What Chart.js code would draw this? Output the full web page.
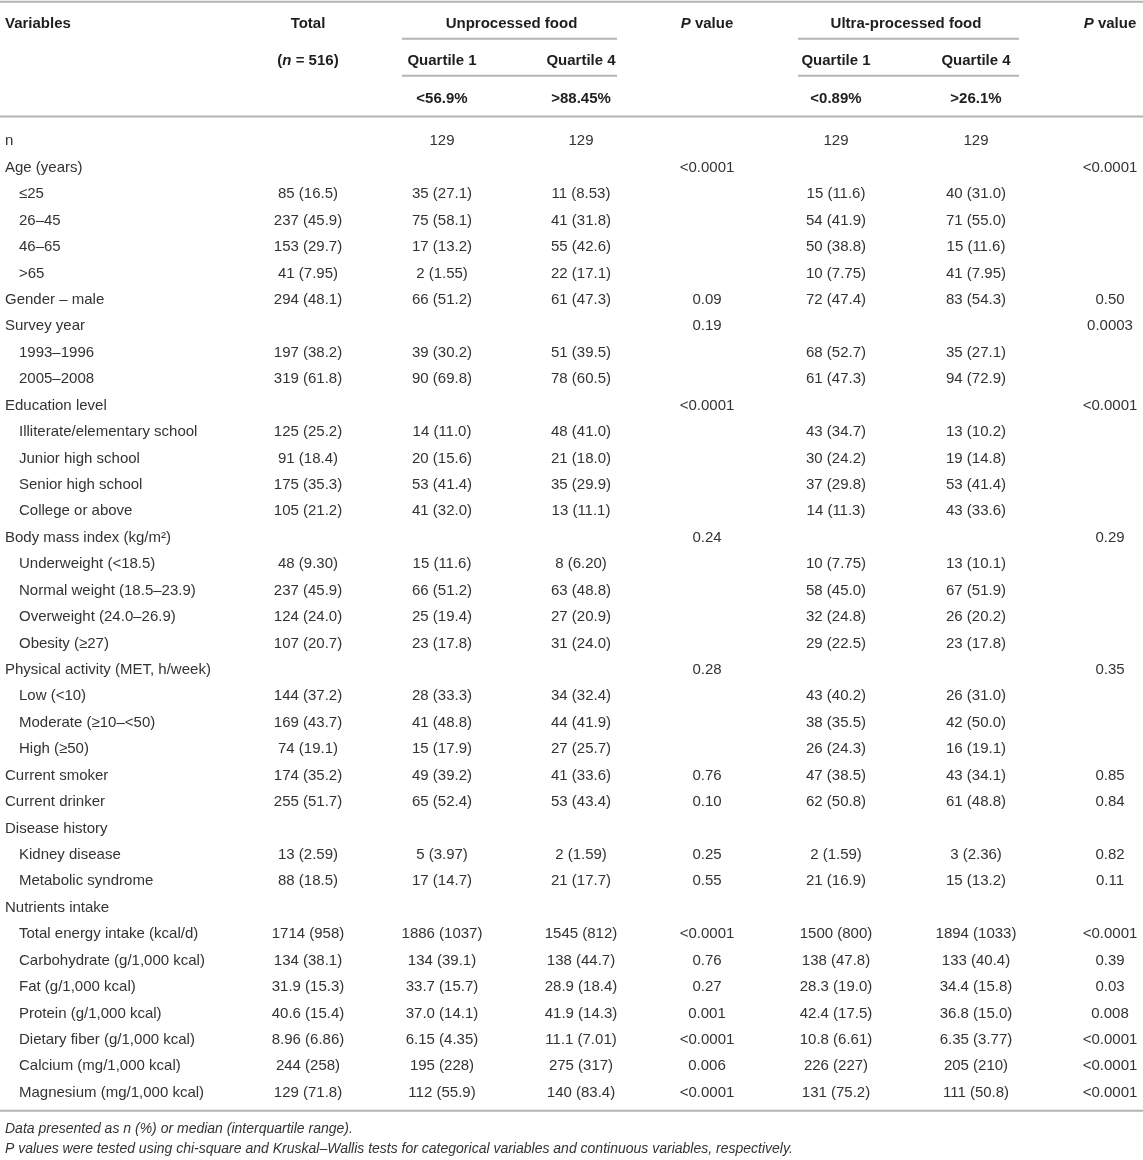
<!DOCTYPE html>
<html><head><meta charset="utf-8">
<script src="https://cdn.jsdelivr.net/npm/chart.js@4/dist/chart.umd.min.js"></script>
<style>html,body{margin:0;padding:0;background:#fff}#wrap{width:1143px;height:1160px;position:relative}</style>
</head><body><div id="wrap"><canvas id="c"></canvas></div>
<script>
// ---------- DATA ----------
const variables = ["n","Age (years)","≤25","26–45","46–65",">65","Gender – male","Survey year","1993–1996","2005–2008","Education level","Illiterate/elementary school","Junior high school","Senior high school","College or above","Body mass index (kg/m²)","Underweight (<18.5)","Normal weight (18.5–23.9)","Overweight (24.0–26.9)","Obesity (≥27)","Physical activity (MET, h/week)","Low (<10)","Moderate (≥10–<50)","High (≥50)","Current smoker","Current drinker","Disease history","Kidney disease","Metabolic syndrome","Nutrients intake","Total energy intake (kcal/d)","Carbohydrate (g/1,000 kcal)","Fat (g/1,000 kcal)","Protein (g/1,000 kcal)","Dietary fiber (g/1,000 kcal)","Calcium (mg/1,000 kcal)","Magnesium (mg/1,000 kcal)"];
const subLevel = [0,0,1,1,1,1,0,0,1,1,0,1,1,1,1,0,1,1,1,1,0,1,1,1,0,0,0,1,1,0,1,1,1,1,1,1,1];
const totalCol = ["","","85 (16.5)","237 (45.9)","153 (29.7)","41 (7.95)","294 (48.1)","","197 (38.2)","319 (61.8)","","125 (25.2)","91 (18.4)","175 (35.3)","105 (21.2)","","48 (9.30)","237 (45.9)","124 (24.0)","107 (20.7)","","144 (37.2)","169 (43.7)","74 (19.1)","174 (35.2)","255 (51.7)","","13 (2.59)","88 (18.5)","","1714 (958)","134 (38.1)","31.9 (15.3)","40.6 (15.4)","8.96 (6.86)","244 (258)","129 (71.8)"];
const unprocQ1 = ["129","","35 (27.1)","75 (58.1)","17 (13.2)","2 (1.55)","66 (51.2)","","39 (30.2)","90 (69.8)","","14 (11.0)","20 (15.6)","53 (41.4)","41 (32.0)","","15 (11.6)","66 (51.2)","25 (19.4)","23 (17.8)","","28 (33.3)","41 (48.8)","15 (17.9)","49 (39.2)","65 (52.4)","","5 (3.97)","17 (14.7)","","1886 (1037)","134 (39.1)","33.7 (15.7)","37.0 (14.1)","6.15 (4.35)","195 (228)","112 (55.9)"];
const unprocQ4 = ["129","","11 (8.53)","41 (31.8)","55 (42.6)","22 (17.1)","61 (47.3)","","51 (39.5)","78 (60.5)","","48 (41.0)","21 (18.0)","35 (29.9)","13 (11.1)","","8 (6.20)","63 (48.8)","27 (20.9)","31 (24.0)","","34 (32.4)","44 (41.9)","27 (25.7)","41 (33.6)","53 (43.4)","","2 (1.59)","21 (17.7)","","1545 (812)","138 (44.7)","28.9 (18.4)","41.9 (14.3)","11.1 (7.01)","275 (317)","140 (83.4)"];
const unprocP = ["","<0.0001","","","","","0.09","0.19","","","<0.0001","","","","","0.24","","","","","0.28","","","","0.76","0.10","","0.25","0.55","","<0.0001","0.76","0.27","0.001","<0.0001","0.006","<0.0001"];
const ultraQ1 = ["129","","15 (11.6)","54 (41.9)","50 (38.8)","10 (7.75)","72 (47.4)","","68 (52.7)","61 (47.3)","","43 (34.7)","30 (24.2)","37 (29.8)","14 (11.3)","","10 (7.75)","58 (45.0)","32 (24.8)","29 (22.5)","","43 (40.2)","38 (35.5)","26 (24.3)","47 (38.5)","62 (50.8)","","2 (1.59)","21 (16.9)","","1500 (800)","138 (47.8)","28.3 (19.0)","42.4 (17.5)","10.8 (6.61)","226 (227)","131 (75.2)"];
const ultraQ4 = ["129","","40 (31.0)","71 (55.0)","15 (11.6)","41 (7.95)","83 (54.3)","","35 (27.1)","94 (72.9)","","13 (10.2)","19 (14.8)","53 (41.4)","43 (33.6)","","13 (10.1)","67 (51.9)","26 (20.2)","23 (17.8)","","26 (31.0)","42 (50.0)","16 (19.1)","43 (34.1)","61 (48.8)","","3 (2.36)","15 (13.2)","","1894 (1033)","133 (40.4)","34.4 (15.8)","36.8 (15.0)","6.35 (3.77)","205 (210)","111 (50.8)"];
const ultraP = ["","<0.0001","","","","","0.50","0.0003","","","<0.0001","","","","","0.29","","","","","0.35","","","","0.85","0.84","","0.82","0.11","","<0.0001","0.39","0.03","0.008","<0.0001","<0.0001","<0.0001"];

const columnTitles = ["Variables","Total"];
const sampleSize = "516";
const groupTitles = ["Unprocessed food","Ultra-processed food"];
const quartileTitles = ["Quartile 1","Quartile 4"];
const unprocCutoffs = ["<56.9%",">88.45%"];
const ultraCutoffs = ["<0.89%",">26.1%"];
const footnotes = ["Data presented as n (%) or median (interquartile range).","P values were tested using chi-square and Kruskal–Wallis tests for categorical variables and continuous variables, respectively."];

// ---------- LAYOUT (positions in scale units) ----------
const FAMILY = "'Liberation Sans', Arial, Helvetica, sans-serif";
const FS = 15, FOOT_FS = 14;
const colPos = {vars:5, total:308, uQ1:442, uQ4:581, uP:707, pQ1:836, pQ4:976, pP:1110};
const indentStep = 14;
const headerRows = [-4.41, -3.01, -1.58];   // in row units on the category axis
const ruleRows = {top:-5.24, group:-3.84, quart:-2.44, head:-0.90, bottom:36.72};
const groupSpans = [[402,617],[798,1019]];
const footRows = [37.40, 38.16];
const TEXT = '#333333', HEAD = '#1e1e1e', RULE = '#b4b4b4';

function mkDataset(key, texts, align){
  return {label:key, cellText:texts, align:align, colKey:key,
    data: texts.map((t,j)=>({x:colPos[key], y:j})), pointRadius:0, pointHoverRadius:0};
}

function fontStr(s){ return (s.it?'italic ':'')+(s.bold?'bold ':'')+(s.size||FS)+'px '+FAMILY; }
function drawRich(ctx, segs, x, y, align, base){
  let w=0;
  segs.forEach(s=>{ ctx.font=fontStr(Object.assign({},base,s)); s._w=ctx.measureText(s.t).width; w+=s._w; });
  let sx = align==='center' ? x-w/2 : (align==='right' ? x-w : x);
  ctx.textAlign='left'; ctx.textBaseline='middle';
  segs.forEach(s=>{ ctx.font=fontStr(Object.assign({},base,s)); ctx.fillText(s.t, sx, y); sx+=s._w; });
}

const tablePlugin = {
  id:'tableText',
  afterDatasetsDraw(chart){
    const ctx = chart.ctx, xs = chart.scales.x, ys = chart.scales.y;
    const X = k => xs.getPixelForValue(typeof k==='number'?k:colPos[k]);
    const Y = r => ys.getPixelForValue(r);
    ctx.save();
    // rules
    ctx.strokeStyle = RULE; ctx.lineWidth = 2;
    const hline=(r,x0,x1)=>{ctx.beginPath(); ctx.moveTo(X(x0),Y(r)); ctx.lineTo(X(x1),Y(r)); ctx.stroke();};
    hline(ruleRows.top, 0, 1143);
    hline(ruleRows.head, 0, 1143);
    hline(ruleRows.bottom, 0, 1143);
    groupSpans.forEach(sp=>{ hline(ruleRows.group, sp[0], sp[1]); hline(ruleRows.quart, sp[0], sp[1]); });
    // headers
    ctx.fillStyle = HEAD;
    const b = {bold:true};
    drawRich(ctx,[{t:columnTitles[0]}], X('vars'), Y(headerRows[0]), 'left', b);
    drawRich(ctx,[{t:columnTitles[1]}], X('total'), Y(headerRows[0]), 'center', b);
    drawRich(ctx,[{t:groupTitles[0]}], (X('uQ1')+X('uQ4'))/2, Y(headerRows[0]), 'center', b);
    drawRich(ctx,[{t:groupTitles[1]}], (X('pQ1')+X('pQ4'))/2, Y(headerRows[0]), 'center', b);
    drawRich(ctx,[{t:'P',it:true},{t:' value'}], X('uP'), Y(headerRows[0]), 'center', b);
    drawRich(ctx,[{t:'P',it:true},{t:' value'}], X('pP'), Y(headerRows[0]), 'center', b);
    drawRich(ctx,[{t:'('},{t:'n',it:true},{t:' = '+sampleSize+')'}], X('total'), Y(headerRows[1]), 'center', b);
    ['uQ1','uQ4'].forEach((k,i)=>{
      drawRich(ctx,[{t:quartileTitles[i]}], X(k), Y(headerRows[1]), 'center', b);
      drawRich(ctx,[{t:unprocCutoffs[i]}], X(k), Y(headerRows[2]), 'center', b);
    });
    ['pQ1','pQ4'].forEach((k,i)=>{
      drawRich(ctx,[{t:quartileTitles[i]}], X(k), Y(headerRows[1]), 'center', b);
      drawRich(ctx,[{t:ultraCutoffs[i]}], X(k), Y(headerRows[2]), 'center', b);
    });
    // body cells, placed at the dataset points
    ctx.fillStyle = TEXT;
    chart.data.datasets.forEach((ds,di)=>{
      const meta = chart.getDatasetMeta(di);
      meta.data.forEach((pt,j)=>{
        const t = ds.cellText[j]; if(!t) return;
        let x = pt.x;
        if(ds.colKey==='vars') x += subLevel[j]*indentStep;
        drawRich(ctx,[{t:t}], x, pt.y + 1, ds.align, {});
      });
    });
    // footnotes
    footnotes.forEach((f,i)=>{
      drawRich(ctx,[{t:f}], X('vars'), Y(footRows[i]), 'left', {it:true, size:FOOT_FS});
    });
    ctx.restore();
  }
};

new Chart(document.getElementById('c'), {
  type:'scatter',
  data:{ datasets:[
    mkDataset('vars', variables, 'left'),
    mkDataset('total', totalCol, 'center'),
    mkDataset('uQ1', unprocQ1, 'center'),
    mkDataset('uQ4', unprocQ4, 'center'),
    mkDataset('uP', unprocP, 'center'),
    mkDataset('pQ1', ultraQ1, 'center'),
    mkDataset('pQ4', ultraQ4, 'center'),
    mkDataset('pP', ultraP, 'center')
  ]},
  options:{
    responsive:true, maintainAspectRatio:false, animation:false, events:[],
    layout:{padding:{top:127, bottom:55, left:0, right:0}},
    plugins:{legend:{display:false}, tooltip:{enabled:false}},
    scales:{
      x:{type:'linear', min:0, max:1143, display:false},
      y:{type:'category', labels:variables, offset:true, display:false}
    }
  },
  plugins:[tablePlugin]
});
</script></body></html>
